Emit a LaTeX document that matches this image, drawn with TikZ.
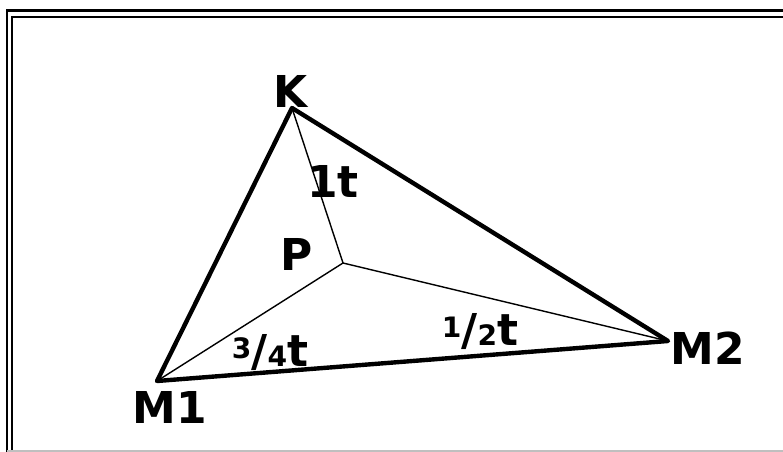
\documentclass[tikz,border=0pt]{standalone}
\usepackage{fontspec}
\usepackage{tikz}
\usetikzlibrary{arrows.meta,positioning,calc}
\newfontfamily\lblfont{DejaVu Sans}
\newcommand{\lbltxt}{\lblfont\bfseries\fontsize{25}{25}\selectfont}
\newcommand{\frc}[2]{{\fontsize{16}{16}\selectfont\raisebox{.55ex}{#1}}/{\fontsize{16}{16}\selectfont #2}}

\begin{document}
\begin{tikzpicture}[x=0.02cm,y=-0.02cm,
  lbl/.style={inner sep=0pt,font=\lbltxt},
  side/.style={line width=2.5pt,line cap=round,line join=round},
  spoke/.style={line width=0.8pt}]
\useasboundingbox (0,0) rectangle (783,452);
% frame
\draw[line width=1.2pt] (7,452)--(7,10.5)--(783,10.5);
\draw[line width=1.2pt] (12,452)--(12,17)--(783,17);
\draw[gray!50,line width=0.6pt] (7,451)--(783,451);
% points
\coordinate (K) at (292,108);
\coordinate (M1) at (157,381);
\coordinate (M2) at (668,341);
\coordinate (P) at (343,263);
\draw[side] (M1)--(K)--(M2)--cycle;
\draw[spoke] (P)--(K);
\draw[spoke] (P)--(M1);
\draw[spoke] (P)--(M2);
% labels
\node[lbl] (lk) at (291,91) {K};
\node[lbl] (lm1) at (170,407) {M1};
\node[lbl] (lm2) at (708,348) {M2};
\node[lbl] (lp) at (297,254) {P};
\node[lbl] (lkp) at (333,181) {1t};
\node[lbl] (lm1p) at (270,353) {\frc{3}{4}t};
\node[lbl] (lm2p) at (480,332) {\frc{1}{2}t};
\end{tikzpicture}
\end{document}
